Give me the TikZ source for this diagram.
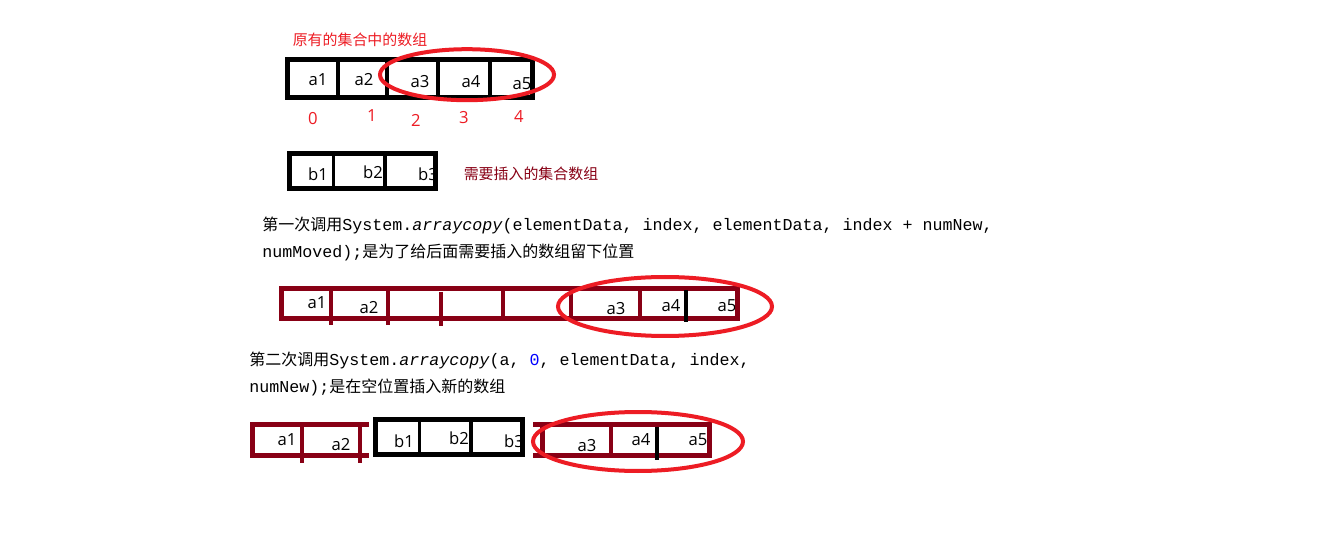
\documentclass[tikz,border=0pt]{standalone}
\usepackage{fontspec}
\setmainfont{Noto Sans CJK SC}
\newfontfamily\cmono{Liberation Mono}
\newfontfamily\lblfont{Open Sans}
\definecolor{pred}{RGB}{237,28,36}
\definecolor{dred}{RGB}{136,0,21}
\definecolor{cblue}{RGB}{0,0,255}
\tikzset{
  lbl/.style={font=\lblfont\fontsize{12.5}{14}\selectfont, inner sep=0pt, text=black},
  idx/.style={font=\lblfont\fontsize{12.5}{14}\selectfont, inner sep=0pt, text=pred},
  note/.style={font=\fontsize{11.2}{13}\selectfont, inner sep=0pt, anchor=center},
  code/.style={font=\fontsize{12}{14}\selectfont, inner sep=0pt, anchor=west, text=black},
  blkout/.style={draw=black, line width=3.75pt},
  blkdiv/.style={draw=black, line width=2.6pt},
  drout/.style={draw=dred, line width=3.75pt},
  drdiv/.style={draw=dred, line width=3pt},
  ring/.style={draw=pred, line width=3pt},
}
\newcommand{\cm}[1]{{\cmono\fontsize{12.5}{14}\selectfont #1}}
\begin{document}
\begin{tikzpicture}[x=0.75pt,y=-0.75pt]
\useasboundingbox (0,0) rectangle (1325,538);
\fill[white] (0,0) rectangle (1325,538);

% ---------- row 1: original array ----------
\node[note, text=pred] (title) at (360,40) {原有的集合中的数组};
\node[lbl] (a1) at (318,80) {a1};
\node[lbl] (a2) at (364,80) {a2};
\node[lbl] (a3) at (420,82) {a3};
\node[lbl] (a4) at (471,82) {a4};
\node[lbl] (a5) at (522,84) {a5};
\draw[blkout] (287.5,59.5) rectangle (532.5,97.5);
\draw[blkdiv] (338,59.5) -- (338,97.5);
\draw[blkdiv] (387,59.5) -- (387,97.5);
\draw[blkdiv] (438,59.5) -- (438,97.5);
\draw[blkdiv] (490,59.5) -- (490,97.5);
\draw[ring] (467,74.7) ellipse [x radius=87, y radius=25.5];
\node[idx] (i0) at (313,119) {0};
\node[idx] (i1) at (372,116) {1};
\node[idx] (i2) at (416,120) {2};
\node[idx] (i3) at (464,118) {3};
\node[idx] (i4) at (519,117) {4};

% ---------- row 2: array to insert ----------
\node[lbl] (b1) at (318,174) {b1};
\node[lbl] (b2) at (373,172) {b2};
\node[lbl] (b3) at (428,174) {b3};
\fill[white] (436,160) rectangle (445,185);
\draw[blkout] (289.5,153.5) rectangle (435.5,188.5);
\draw[blkdiv] (333.5,153.5) -- (333.5,188.5);
\draw[blkdiv] (385,153.5) -- (385,188.5);
\node[note, text=dred] (bnote) at (531,174) {需要插入的集合数组};

% ---------- text 1 ----------
\node[code] (t1a) at (262,225) {第一次调用\cm{System.\textit{arraycopy}(elementData, index, elementData, index + numNew,}};
\node[code] (t1b) at (262,252) {\cm{numMoved);}是为了给后面需要插入的数组留下位置};

% ---------- row 3: after first copy ----------
\node[lbl] (c1) at (317,303) {a1};
\node[lbl] (c2) at (369,308) {a2};
\node[lbl] (c3) at (616,309) {a3};
\node[lbl] (c4) at (671,306) {a4};
\node[lbl] (c5) at (727,306) {a5};
\draw[drout] (281.5,288.5) rectangle (737.5,318.5);
\draw[drdiv] (331,288.5) -- (331,325);
\draw[drdiv] (388,288.5) -- (388,325);
\draw[drdiv] (441,292) -- (441,326);
\draw[drdiv] (503,290) -- (503,321);
\draw[drdiv] (571,288.5) -- (571,320);
\draw[drdiv] (639.5,288.5) -- (639.5,318.5);
\draw[blkdiv] (686,290) -- (686,322);
\draw[ring] (665,306.5) ellipse [x radius=107, y radius=29.5];

% ---------- text 2 ----------
\node[code] (t2a) at (249,360) {第二次调用\cm{System.\textit{arraycopy}(a, \textcolor{cblue}{0}, elementData, index,}};
\node[code] (t2b) at (249,387) {\cm{numNew);}是在空位置插入新的数组};

% ---------- row 5: after second copy ----------
\node[lbl] (d1) at (287,440) {a1};
\node[lbl] (d2) at (341,445) {a2};
\draw[drout] (250,424) -- (369,424);
\draw[drout] (250,455.5) -- (369,455.5);
\draw[drout] (252.5,424) -- (252.5,455.5);
\draw[drdiv] (301.5,424) -- (301.5,463);
\draw[drdiv] (359.5,424) -- (359.5,463);

\node[lbl] (e1) at (404,441) {b1};
\node[lbl] (e2) at (459,438) {b2};
\node[lbl] (e3) at (514,441) {b3};
\fill[white] (523,428) rectangle (530,452);
\draw[blkout] (375.5,419.5) rectangle (522.5,454.5);
\draw[blkdiv] (419.5,419.5) -- (419.5,454.5);
\draw[blkdiv] (471,419.5) -- (471,454.5);

\node[lbl] (f3) at (587,446) {a3};
\node[lbl] (f4) at (641,440) {a4};
\node[lbl] (f5) at (698,440) {a5};
\draw[drout] (533,424) -- (712,424);
\draw[drout] (533,455.5) -- (712,455.5);
\draw[drout] (542,424) -- (542,455.5);
\draw[drdiv] (610.5,424) -- (610.5,455.5);
\draw[drout] (709.5,424) -- (709.5,455.5);
\draw[blkdiv] (657,427) -- (657,460);
\draw[ring] (638,441.5) ellipse [x radius=105, y radius=29.5];
\end{tikzpicture}
\end{document}
